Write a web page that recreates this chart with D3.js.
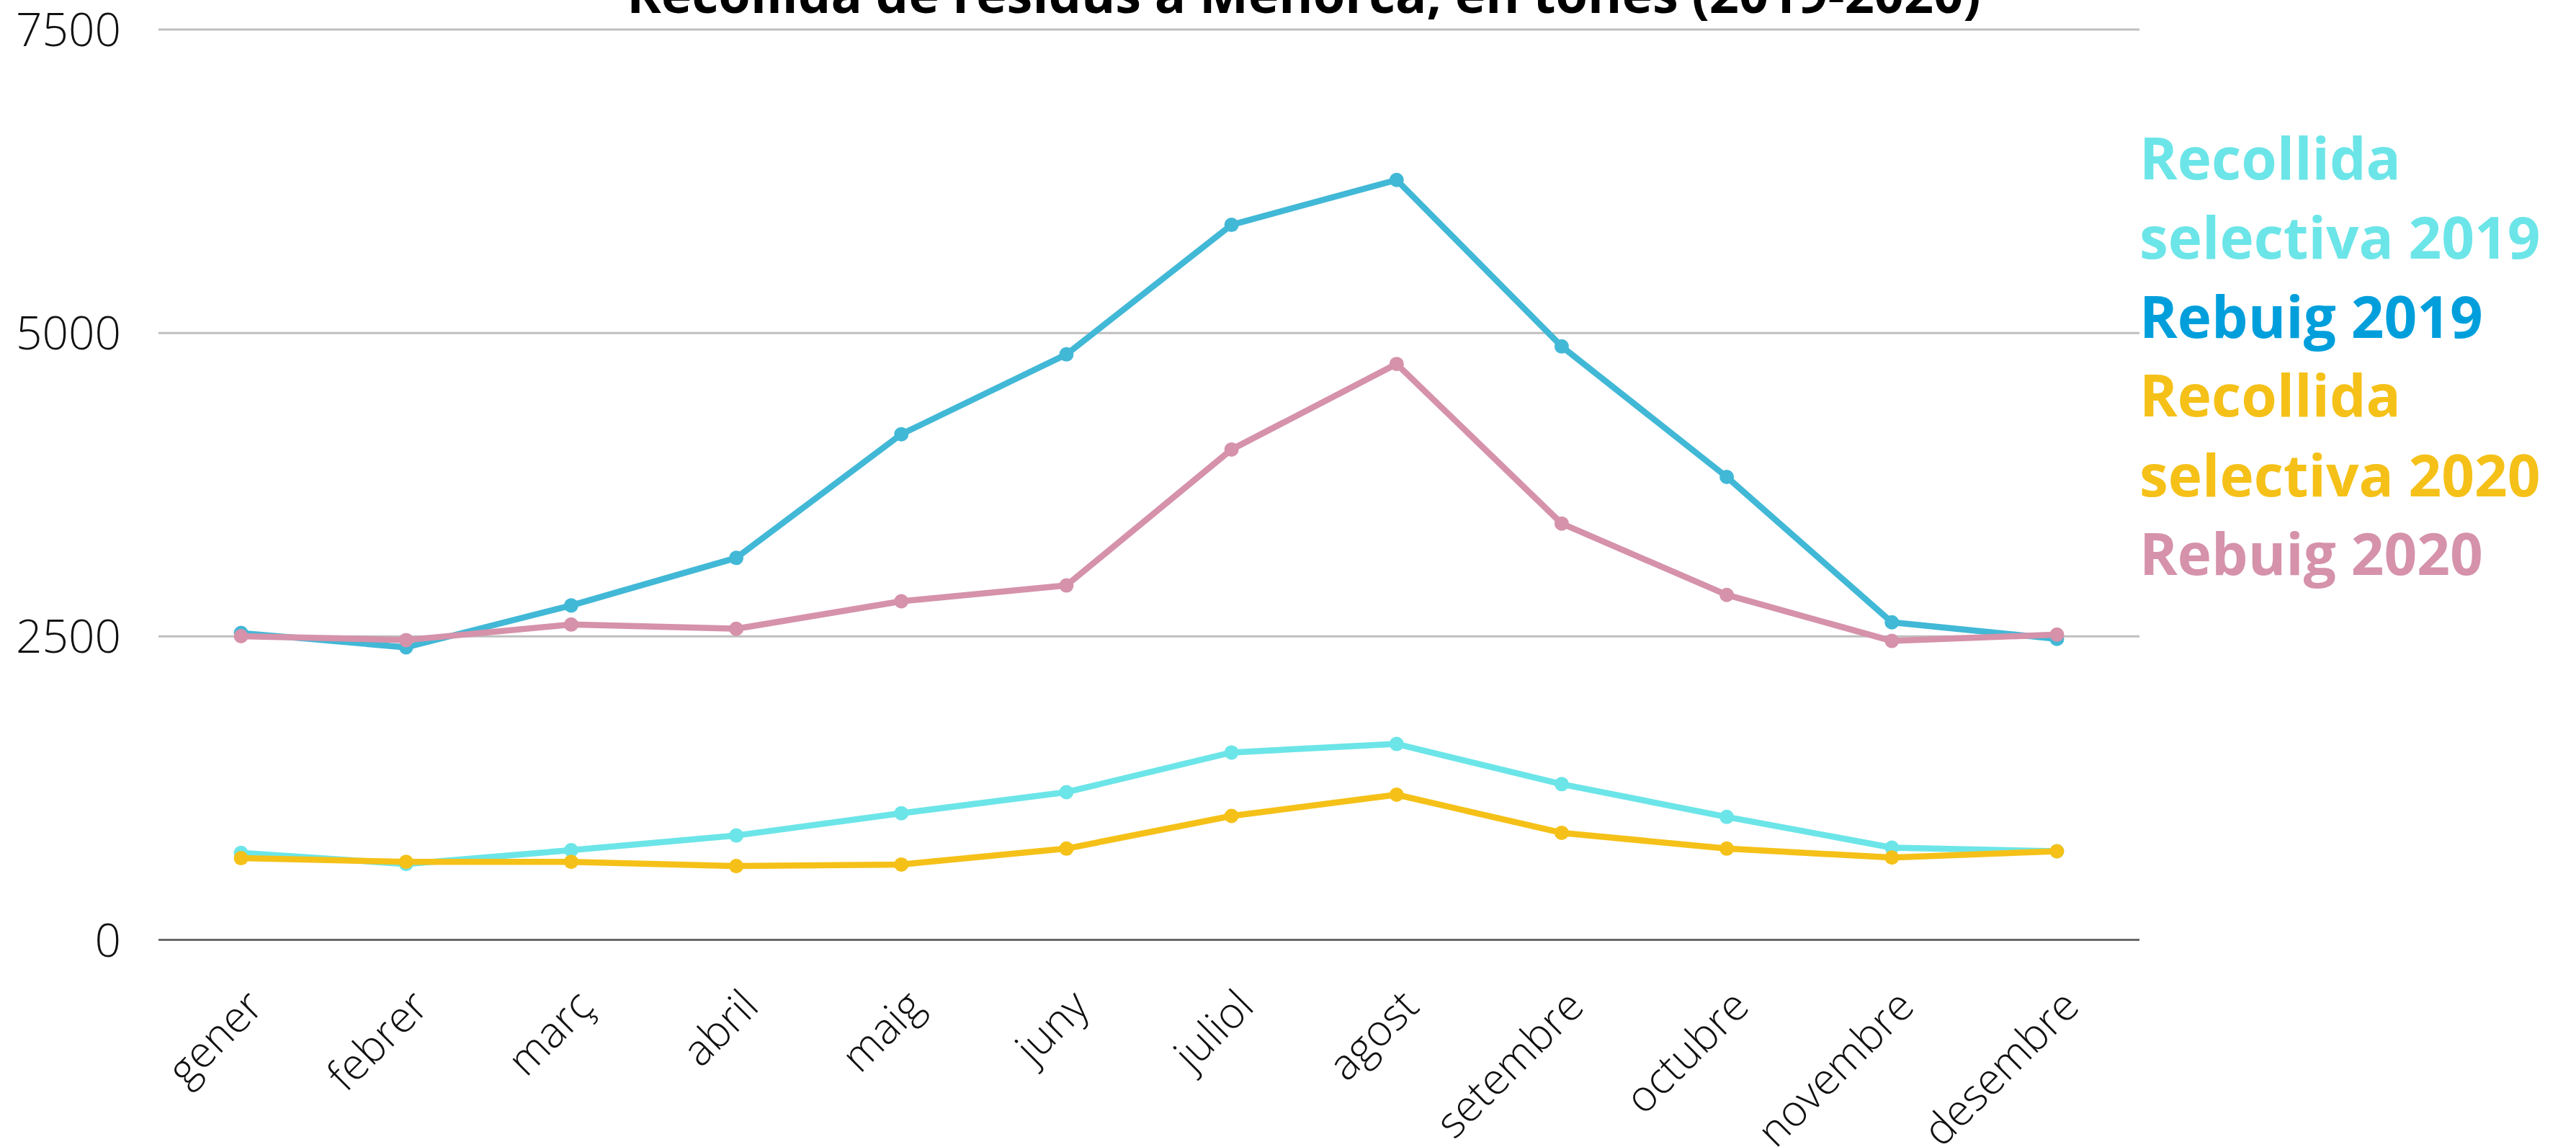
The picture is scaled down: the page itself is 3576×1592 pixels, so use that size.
<!DOCTYPE html>
<html>
<head>
<meta charset="utf-8">
<script src="https://cdn.jsdelivr.net/npm/d3@7"></script>
<style>
  body { margin: 0; background: #fff; }
  svg { display: block; font-family: "Open Sans", sans-serif; }
</style>
</head>
<body>
<svg id="chart" width="3576" height="1592"></svg>
<script>
var months = ['gener', 'febrer', 'març', 'abril', 'maig', 'juny', 'juliol', 'agost', 'setembre', 'octubre', 'novembre', 'desembre'];
var yTicks = [0, 2500, 5000, 7500];

// tones per mes
var selectiva2019 = [717, 625, 739, 860, 1043, 1217, 1544, 1614, 1283, 1013, 760, 730];
var rebuig2019 = [2528, 2410, 2755, 3147, 4166, 4824, 5891, 6261, 4889, 3814, 2616, 2480];
var selectiva2020 = [673, 643, 643, 608, 621, 752, 1021, 1196, 882, 752, 678, 730];
var rebuig2020 = [2502, 2470, 2598, 2563, 2790, 2920, 4040, 4745, 3430, 2842, 2463, 2515];

var seriesNames = ['Recollida selectiva 2019', 'Rebuig 2019', 'Recollida selectiva 2020', 'Rebuig 2020'];
var lineColors = ['#6ce5e8', '#41b8d6', '#f5c118', '#d592aa'];
var legendColors = ['#6ce5e8', '#009fdc', '#f5c118', '#d592aa'];
var legendLines = [['Recollida', 'selectiva 2019'], ['Rebuig 2019'], ['Recollida', 'selectiva 2020'], ['Rebuig 2020']];

var series = [selectiva2019, rebuig2019, selectiva2020, rebuig2020];

var svg = d3.select('#chart');

var x = d3.scalePoint().domain(months).range([220, 2970]).padding(0.5);
var y = d3.scaleLinear().domain([0, 7500]).range([1304.5, 41]);

// gridlines
svg.append('g')
  .selectAll('line')
  .data(yTicks.filter(function(d) { return d > 0; }))
  .enter()
  .append('line')
  .attr('x1', 220)
  .attr('x2', 2970)
  .attr('y1', function(d) { return y(d); })
  .attr('y2', function(d) { return y(d); })
  .attr('stroke', '#bfbfbf')
  .attr('stroke-width', 3);

// base line
svg.append('line')
  .attr('x1', 220)
  .attr('x2', 2970)
  .attr('y1', y(0))
  .attr('y2', y(0))
  .attr('stroke', '#696969')
  .attr('stroke-width', 3);

// y labels
svg.append('g')
  .selectAll('text')
  .data(yTicks)
  .enter()
  .append('text')
  .attr('x', 168)
  .attr('y', function(d) { return y(d); })
  .attr('dy', '0.36em')
  .attr('text-anchor', 'end')
  .style('font-size', '64px')
  .style('font-weight', 300)
  .attr('fill', '#111')
  .text(function(d) { return d; });

// x labels
svg.append('g')
  .selectAll('text')
  .data(months)
  .enter()
  .append('text')
  .attr('transform', function(d) { return 'translate(' + (x(d) + 34) + ',1400) rotate(-45)'; })
  .attr('text-anchor', 'end')
  .style('font-size', '60px')
  .style('font-weight', 300)
  .attr('fill', '#111')
  .text(function(d) { return d; });

// lines + points
var line = d3.line()
  .x(function(d, i) { return x(months[i]); })
  .y(function(d) { return y(d); });

series.forEach(function(vals, k) {
  var g = svg.append('g');
  g.append('path')
    .datum(vals)
    .attr('d', line)
    .attr('fill', 'none')
    .attr('stroke', lineColors[k])
    .attr('stroke-width', 8.5)
    .attr('stroke-linejoin', 'round');
  g.selectAll('circle')
    .data(vals)
    .enter()
    .append('circle')
    .attr('cx', function(d, i) { return x(months[i]); })
    .attr('cy', function(d) { return y(d); })
    .attr('r', 10)
    .attr('fill', lineColors[k]);
});

// title
svg.append('text')
  .attr('x', 1810)
  .attr('y', 18)
  .attr('text-anchor', 'middle')
  .style('font-size', '72px')
  .style('font-weight', 700)
  .attr('fill', '#000')
  .text('Recollida de residus a Menorca, en tones (2019-2020)');

// legend
var baselines = [[249, 359], [469], [578, 689], [798]];
legendLines.forEach(function(lines, k) {
  lines.forEach(function(t, j) {
    svg.append('text')
      .attr('x', 2970)
      .attr('y', baselines[k][j])
      .style('font-size', '80px')
      .style('font-weight', 700)
      .attr('fill', legendColors[k])
      .text(t);
  });
});
</script>
</body>
</html>
